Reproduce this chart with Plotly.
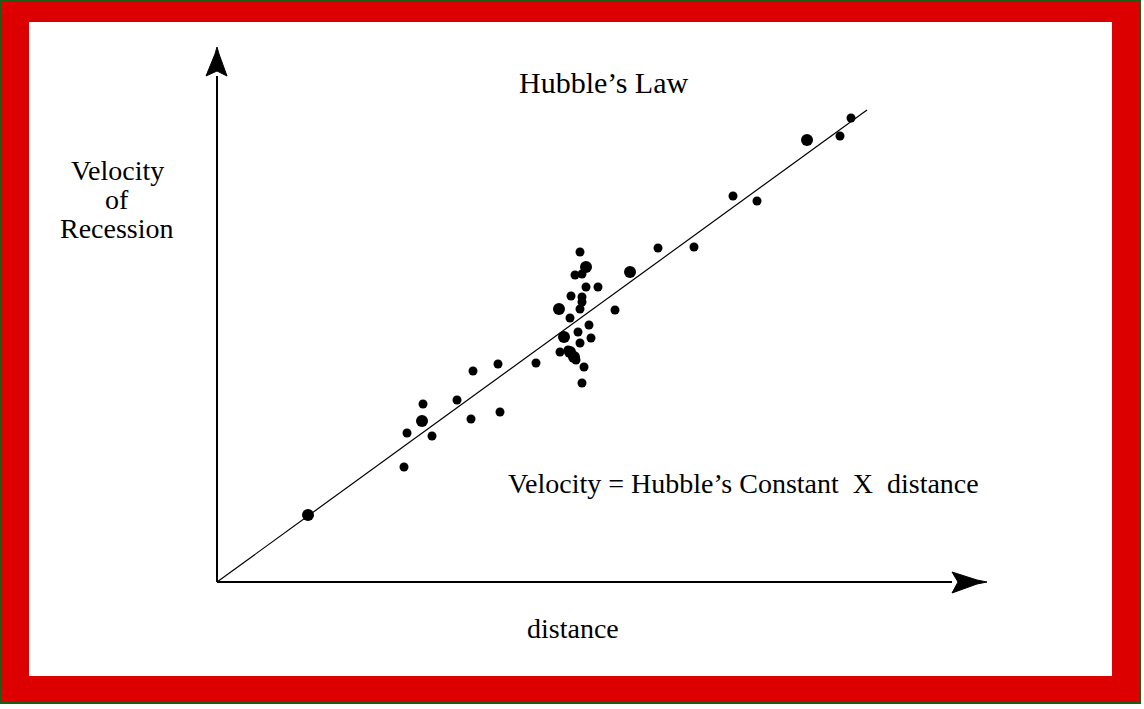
import plotly.graph_objects as go

# -----------------------------
# Data (distance / velocity in arbitrary units)
# -----------------------------
galaxy_distance = [187, 190, 206, 215, 240, 254, 256, 281, 283, 319, 343,
                   363, 358, 365, 369, 381, 354, 365, 365, 363, 353, 398,
                   372, 361, 374, 363, 351, 355, 359, 367, 365, 441, 477,
                   516, 540, 623, 634]
galaxy_velocity = [115, 149, 178, 146, 182, 163, 211, 218, 170, 219, 230,
                   330, 307, 308, 295, 295, 286, 285, 280, 273, 264, 272,
                   257, 250, 244, 239, 232, 227, 222, 215, 199, 334, 335,
                   386, 381, 446, 464]

# a few galaxies drawn with a bigger dot
big_distance = [91, 205, 342, 369, 347, 413, 590, 353, 357]
big_velocity = [67, 161, 273, 315, 245, 310, 442, 230, 225]

# best fit line
fit_distance = [0, 650]
fit_velocity = [0, 472]

W, H = 1144, 709
L, R, T, B = 29, 1112, 22, 676   # white plotting panel in pixels
OX, OY = 217, 582                # axes origin in pixels

FONT = "Liberation Serif, Times New Roman, serif"


def px(x):
    return (x - L) / (R - L)


def py(y):
    return (B - y) / (B - T)


fig = go.Figure()

fig.add_trace(go.Scatter(
    x=fit_distance, y=fit_velocity, mode="lines",
    line=dict(color="black", width=1.2), hoverinfo="skip"
))
fig.add_trace(go.Scatter(
    x=galaxy_distance, y=galaxy_velocity, mode="markers",
    marker=dict(color="black", size=9, line=dict(width=0))
))
fig.add_trace(go.Scatter(
    x=big_distance, y=big_velocity, mode="markers",
    marker=dict(color="black", size=12, line=dict(width=0))
))

shapes = []
# axes with arrow heads
shapes.append(dict(type="line", x0=0, y0=0, x1=0, y1=OY - 76,
                   line=dict(color="black", width=2)))
shapes.append(dict(type="line", x0=0, y0=0, x1=952 - OX, y1=0,
                   line=dict(color="black", width=2)))
shapes.append(dict(type="path", path="M -11,506 L -2,528 L 0,535 L 2,528 L 10,506 L 0,511 Z",
                   fillcolor="black", line=dict(color="black", width=1)))
shapes.append(dict(type="path", path="M 735,10 L 760,2 L 770,0 L 760,-2 L 735,-11 L 741,0 Z",
                   fillcolor="black", line=dict(color="black", width=1)))

# red frame + thin green outline
red = "#dd0000"
for x0, y0, x1, y1 in [(2, 2, 1139, T), (2, B, 1139, 702),
                       (2, 2, L, 702), (R, 2, 1139, 702)]:
    shapes.append(dict(type="rect", xref="paper", yref="paper",
                       x0=px(x0), x1=px(x1), y0=py(y0), y1=py(y1),
                       fillcolor=red, line=dict(width=0)))
shapes.append(dict(type="rect", xref="paper", yref="paper",
                   x0=px(1), x1=px(1140), y0=py(1), y1=py(703),
                   line=dict(color="#1a5c1a", width=2)))

txt = dict(showarrow=False, font=dict(family=FONT, size=28, color="black"))
annotations = [
    dict(text="Hubble’s Law", x=603 - OX, y=OY - 82,
         showarrow=False, font=dict(family=FONT, size=30, color="black")),
    dict(text="Velocity", x=117 - OX, y=OY - 170, **txt),
    dict(text="of", x=117 - OX, y=OY - 199, **txt),
    dict(text="Recession", x=117 - OX, y=OY - 228, **txt),
    dict(text="Velocity = Hubble’s Constant  X  distance", x=743 - OX, y=OY - 483, **txt),
    dict(text="distance", x=573 - OX, y=OY - 628, **txt),
]

fig.update_layout(
    width=W, height=H,
    margin=dict(l=L, r=W - R, t=T, b=H - B, pad=0),
    paper_bgcolor="white", plot_bgcolor="white",
    showlegend=False,
    xaxis=dict(range=[L - OX, R - OX], visible=False, fixedrange=True),
    yaxis=dict(range=[OY - B, OY - T], visible=False, fixedrange=True),
    shapes=shapes, annotations=annotations,
)

# drop the page's default body margin so the figure sits at the top-left corner
fig.write_html("out.html", config={"displayModeBar": False},
               post_script="document.body.style.margin='0';")
